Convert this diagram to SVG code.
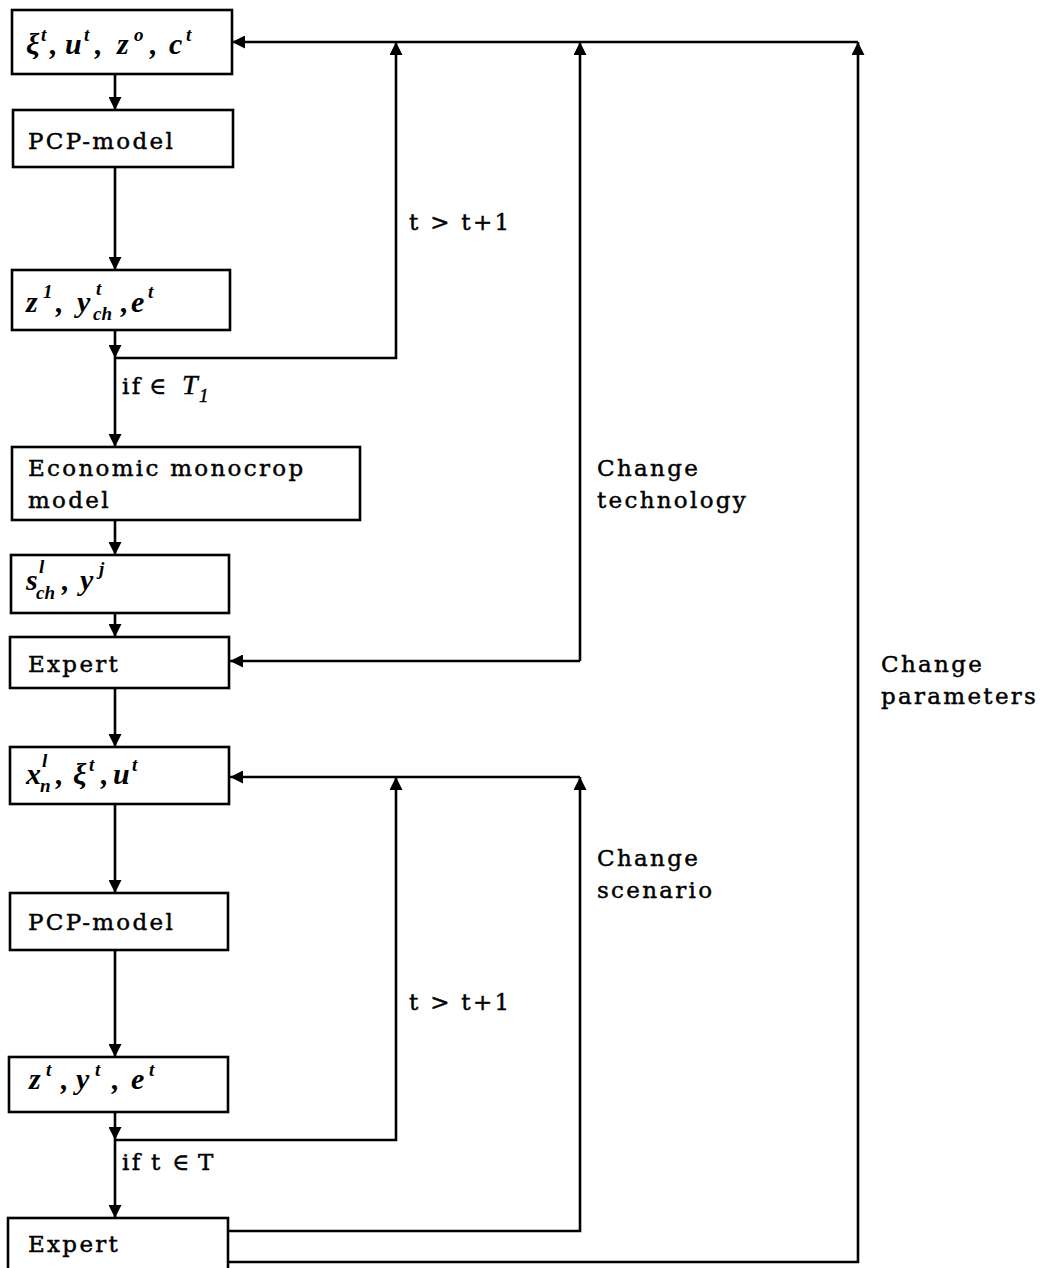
<svg xmlns="http://www.w3.org/2000/svg" width="1049" height="1268" viewBox="0 0 1049 1268">
  <style>
    .box { fill: #fff; stroke: #000; stroke-width: 2.6; }
    .line { fill: none; stroke: #000; stroke-width: 2.6; }
    .lbl { font-family: "DejaVu Serif", "Liberation Serif", serif; font-size: 23px; letter-spacing: 2.3px; fill: #000; stroke: #000; stroke-width: 0.45; }
    .math { font-family: "Liberation Serif", "DejaVu Serif", serif; font-style: italic; font-weight: bold; font-size: 30px; fill: #000; }
    .it { font-family: "Liberation Serif", "DejaVu Serif", serif; font-style: italic; font-size: 28px; letter-spacing: 0; }
    .sup { font-size: 19px; }
  </style>
  <defs>
    <marker id="ah" viewBox="0 0 13 13" refX="13" refY="6.5" markerWidth="13" markerHeight="13" markerUnits="userSpaceOnUse" orient="auto">
      <path d="M0,0 L13,6.5 L0,13 Z" fill="#000"/>
    </marker>
  </defs>

  <!-- connectors -->
  <g id="connectors">
    <line class="line" x1="115" y1="74" x2="115" y2="110" marker-end="url(#ah)"/>
    <line class="line" x1="115" y1="167" x2="115" y2="270" marker-end="url(#ah)"/>
    <line class="line" x1="115" y1="330" x2="115" y2="358" marker-end="url(#ah)"/>
    <line class="line" x1="115" y1="358" x2="115" y2="447" marker-end="url(#ah)"/>
    <line class="line" x1="115" y1="520" x2="115" y2="555" marker-end="url(#ah)"/>
    <line class="line" x1="115" y1="613" x2="115" y2="637" marker-end="url(#ah)"/>
    <line class="line" x1="115" y1="688" x2="115" y2="747" marker-end="url(#ah)"/>
    <line class="line" x1="115" y1="804" x2="115" y2="893" marker-end="url(#ah)"/>
    <line class="line" x1="115" y1="950" x2="115" y2="1057" marker-end="url(#ah)"/>
    <line class="line" x1="115" y1="1112" x2="115" y2="1140" marker-end="url(#ah)"/>
    <line class="line" x1="115" y1="1140" x2="115" y2="1218" marker-end="url(#ah)"/>

    <!-- upper feedback bus -->
    <line class="line" x1="858" y1="42" x2="232" y2="42" marker-end="url(#ah)"/>
    <polyline class="line" points="115,358 396,358 396,42" marker-end="url(#ah)"/>
    <line class="line" x1="580" y1="661" x2="580" y2="42" marker-end="url(#ah)"/>
    <line class="line" x1="580" y1="661" x2="230" y2="661" marker-end="url(#ah)"/>
    <polyline class="line" points="229,1262 858,1262 858,42" marker-end="url(#ah)"/>

    <!-- lower feedback bus -->
    <line class="line" x1="580" y1="777" x2="230" y2="777" marker-end="url(#ah)"/>
    <polyline class="line" points="115,1140 396,1140 396,777" marker-end="url(#ah)"/>
    <polyline class="line" points="229,1231 580,1231 580,777" marker-end="url(#ah)"/>
  </g>

  <!-- nodes -->
  <g id="n-inputs">
    <rect class="box" x="12" y="10" width="220" height="64"/>
    <text class="math" y="54"><tspan x="26">ξ</tspan><tspan class="sup" x="41" y="41">t</tspan><tspan x="50" y="54">,</tspan><tspan x="65">u</tspan><tspan class="sup" x="84" y="41">t</tspan><tspan x="95" y="54">,</tspan><tspan x="117">z</tspan><tspan class="sup" x="134" y="41">o</tspan><tspan x="150" y="54">,</tspan><tspan x="169">c</tspan><tspan class="sup" x="186" y="41">t</tspan></text>
  </g>
  <g id="n-pcp1">
    <rect class="box" x="13" y="110" width="220" height="57"/>
    <text class="lbl" x="28" y="149">PCP-model</text>
  </g>
  <g id="n-out1">
    <rect class="box" x="12" y="270" width="218" height="60"/>
    <text class="math" y="312"><tspan x="26">z</tspan><tspan class="sup" x="43" y="298">1</tspan><tspan x="56" y="312">,</tspan><tspan x="77">y</tspan><tspan class="sup" x="96" y="295">t</tspan><tspan class="sup" x="93" y="320">ch</tspan><tspan x="121" y="312">,</tspan><tspan x="131">e</tspan><tspan class="sup" x="148" y="298">t</tspan></text>
  </g>
  <g id="n-econ">
    <rect class="box" x="12" y="447" width="348" height="73"/>
    <text class="lbl" x="28" y="476">Economic monocrop</text>
    <text class="lbl" x="28" y="508">model</text>
  </g>
  <g id="n-out2">
    <rect class="box" x="11" y="555" width="218" height="58"/>
    <text class="math" y="590"><tspan x="26">s</tspan><tspan class="sup" x="39" y="573">l</tspan><tspan class="sup" x="36" y="599">ch</tspan><tspan x="62" y="590">,</tspan><tspan x="80">y</tspan><tspan class="sup" x="99" y="575">j</tspan></text>
  </g>
  <g id="n-expert1">
    <rect class="box" x="10" y="637" width="219" height="51"/>
    <text class="lbl" x="28" y="672">Expert</text>
  </g>
  <g id="n-inputs2">
    <rect class="box" x="10" y="747" width="219" height="57"/>
    <text class="math" y="784"><tspan x="26">x</tspan><tspan class="sup" x="42" y="767">l</tspan><tspan class="sup" x="40" y="792">n</tspan><tspan x="56" y="784">,</tspan><tspan x="73">ξ</tspan><tspan class="sup" x="89" y="771">t</tspan><tspan x="101" y="784">,</tspan><tspan x="113">u</tspan><tspan class="sup" x="132" y="771">t</tspan></text>
  </g>
  <g id="n-pcp2">
    <rect class="box" x="10" y="893" width="218" height="57"/>
    <text class="lbl" x="28" y="930">PCP-model</text>
  </g>
  <g id="n-out3">
    <rect class="box" x="9" y="1057" width="219" height="55"/>
    <text class="math" y="1089"><tspan x="29">z</tspan><tspan class="sup" x="46" y="1076">t</tspan><tspan x="61" y="1089">,</tspan><tspan x="76">y</tspan><tspan class="sup" x="95" y="1076">t</tspan><tspan x="112" y="1089">,</tspan><tspan x="131">e</tspan><tspan class="sup" x="149" y="1076">t</tspan></text>
  </g>
  <g id="n-expert2">
    <rect class="box" x="8" y="1218" width="220" height="60"/>
    <text class="lbl" x="28" y="1252">Expert</text>
  </g>

  <!-- connector labels -->
  <g id="labels">
    <text class="lbl" x="409" y="230">t &gt; t+1</text>
    <text class="lbl" x="409" y="1010">t &gt; t+1</text>
    <text class="lbl" y="394"><tspan x="122">if</tspan><tspan x="149">∈</tspan><tspan class="it" x="182">T</tspan><tspan class="it sup" x="199" y="402">1</tspan></text>
    <text class="lbl" y="1170"><tspan x="122">if</tspan><tspan x="151">t</tspan><tspan x="172">∈</tspan><tspan x="198">T</tspan></text>
    <text class="lbl" x="597" y="476">Change</text>
    <text class="lbl" x="597" y="508">technology</text>
    <text class="lbl" x="597" y="866">Change</text>
    <text class="lbl" x="597" y="898">scenario</text>
    <text class="lbl" x="881" y="672">Change</text>
    <text class="lbl" x="881" y="704">parameters</text>
  </g>
</svg>
